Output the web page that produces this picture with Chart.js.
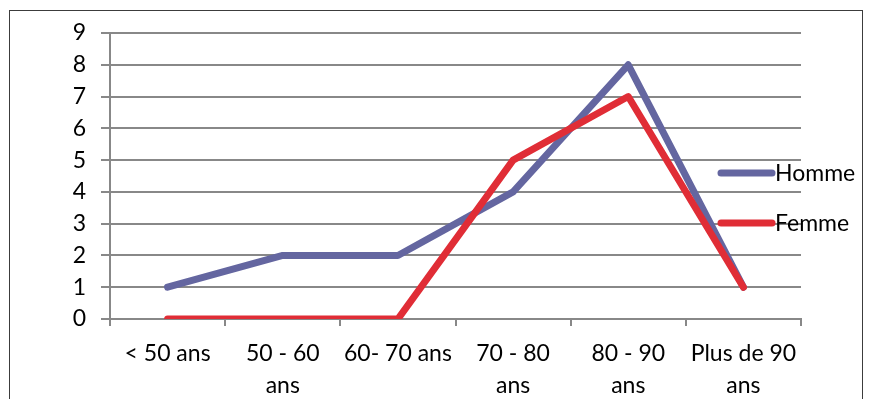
<!DOCTYPE html>
<html>
<head>
<meta charset="utf-8">
<script src="https://cdn.jsdelivr.net/npm/chart.js@4/dist/chart.umd.min.js"></script>
<style>
  body { margin: 0; background: #fff; }
  #wrap { width: 869px; height: 399px; }
</style>
</head>
<body>
<div id="wrap"><canvas id="graph"></canvas></div>
<script>
// données
const categories = [['< 50 ans'], ['50 - 60', 'ans'], ['60- 70 ans'], ['70 - 80', 'ans'], ['80 - 90', 'ans'], ['Plus de 90', 'ans']];
const homme = [1, 2, 2, 4, 8, 1];
const femme = [0, 0, 0, 5, 7, 1];
const yTicks = [0, 1, 2, 3, 4, 5, 6, 7, 8, 9];

const police = "Lato, 'Open Sans', sans-serif";

// cadre autour du graphique + légende à droite
const cadrePlugin = {
  id: 'cadre',
  afterDraw(chart) {
    const ctx = chart.ctx;
    ctx.save();
    ctx.strokeStyle = '#3c3c3c';
    ctx.lineWidth = 1;
    ctx.strokeRect(9.5, 10.5, 853, 420);

    const items = [
      { ds: chart.data.datasets[0], y: 173 },
      { ds: chart.data.datasets[1], y: 223 }
    ];
    items.forEach(function(it){
      ctx.strokeStyle = it.ds.borderColor;
      ctx.lineWidth = 7;
      ctx.lineCap = 'round';
      ctx.beginPath();
      ctx.moveTo(721, it.y);
      ctx.lineTo(772, it.y);
      ctx.stroke();
      ctx.fillStyle = '#000';
      ctx.font = '23px ' + police;
      ctx.textBaseline = 'middle';
      ctx.fillText(it.ds.label, 775, it.y + 1);
    });
    ctx.restore();
  }
};

const ctx = document.getElementById('graph').getContext('2d');
const myChart = new Chart(ctx, {
  type: 'line',
  data: {
    labels: categories,
    datasets: [{
      label: 'Homme',
      data: homme,
      borderColor: '#6466a0',
      borderWidth: 7,
      borderCapStyle: 'round',
      borderJoinStyle: 'round',
      pointRadius: 0,
      tension: 0,
      order: 2
    }, {
      label: 'Femme',
      data: femme,
      borderColor: '#e02d36',
      borderWidth: 7,
      borderCapStyle: 'round',
      borderJoinStyle: 'round',
      pointRadius: 0,
      tension: 0,
      order: 1
    }]
  },
  options: {
    responsive: true,
    maintainAspectRatio: false,
    animation: false,
    layout: { padding: { left: 0, right: 68, top: 33, bottom: 0 } },
    plugins: {
      legend: { display: false },
      tooltip: { enabled: false }
    },
    scales: {
      x: {
        offset: true,
        grid: {
          offset: true,
          drawOnChartArea: false,
          drawTicks: true,
          tickLength: 7,
          color: '#888888',
          lineWidth: 2
        },
        border: { color: '#888888', width: 2 },
        ticks: {
          color: '#000',
          font: { family: police, size: 23, lineHeight: 1.4 },
          padding: 11,
          maxRotation: 0,
          autoSkip: false
        },
        afterFit: function(scale){ scale.height = 80; }
      },
      y: {
        min: 0,
        max: 9,
        afterBuildTicks: function(scale){
          scale.ticks = yTicks.map(function(v){ return { value: v }; });
        },
        grid: {
          color: '#888888',
          lineWidth: 2,
          tickLength: 9
        },
        border: { color: '#888888', width: 2 },
        ticks: {
          color: '#000',
          font: { family: police, size: 23 },
          padding: 15
        },
        afterFit: function(scale){ scale.width = 110; }
      }
    }
  },
  plugins: [cadrePlugin]
});
</script>
</body>
</html>
